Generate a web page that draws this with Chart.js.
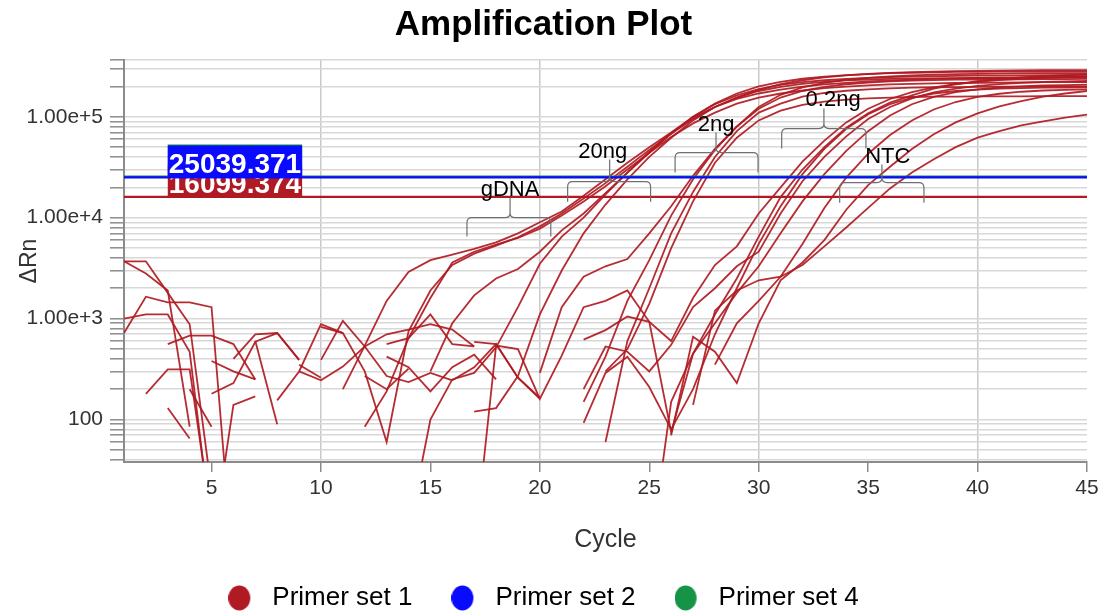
<!DOCTYPE html>
<html>
<head>
<meta charset="utf-8">
<title>Amplification Plot</title>
<script src="https://cdn.jsdelivr.net/npm/chart.js@4.4.1/dist/chart.umd.min.js"></script>
<style>
  html, body { margin: 0; padding: 0; background: #fff; }
  #wrap { width: 1104px; height: 614px; }
</style>
</head>
<body>
<div id="wrap"><canvas id="ampChart" width="1104" height="614"></canvas></div>
<script>
"use strict";

/* ── Datos ────────────────────────────────────────────── */
const cycles = [1, 2, 3, 4, 5, 6, 7, 8, 9, 10, 11, 12, 13, 14, 15, 16, 17, 18, 19, 20, 21, 22, 23,
  24, 25, 26, 27, 28, 29, 30, 31, 32, 33, 34, 35, 36, 37, 38, 39, 40, 41, 42, 43, 44, 45];

// ΔRn por ciclo (null = valor negativo, no se dibuja en escala log)
const gdna1 = [3700, 3700, 1800, 880, 20, null, null, null, null, null, 200, 540, 1500, 2900, 3800,
  4300, 4900, 5700, 7000, 9000, 11500, 16500, 24000, 35000, 50000, 70000, 98000, 125000, 150000, 170000,
  186000, 199000, 209000, 217000, 224000, 229000, 233000, 237000, 240000, 242000, 244000, 246000, 248000, 249000, 250000];
const gdna2 = [3700, 2800, 1900, 85, null, null, null, 155, 300, 880, 720, 300, 60, 750, 1900,
  3400, 4400, 5300, 6400, 8200, 11000, 15500, 22000, 32000, 47000, 68000, 95000, 125000, 155000, 185000,
  210000, 230000, 245000, 257000, 266000, 272000, 277000, 280000, 283000, 285000, 287000, 288000, 289000, 290000, 290000];
const gdna3 = [1000, 1100, 1100, 470, 8, null, null, null, 350, 260, null, 85, 190, 640, 1600,
  3600, 4600, 5400, 6300, 7800, 10500, 14500, 20500, 30000, 44000, 63000, 86000, 110000, 135000, 155000,
  170000, 182000, 192000, 199000, 205000, 209000, 212000, 214000, 216000, 217000, 218000, 219000, 220000, 220000, 221000];
const ng20a = [null, 180, 315, 315, 10, null, null, null, null, null, null, null, null, null, 300,
  900, 1700, 2500, 3100, 4600, 7500, 11000, 17500, 28000, 44000, 68000, 100000, 135000, 170000, 200000,
  222000, 238000, 250000, 259000, 265000, 270000, 273000, 276000, 278000, 279000, 280000, 280000, 281000, 281000, 282000];
const ng20b = [null, null, null, null, 380, 300, 250, null, null, null, null, null, null, 8, 100,
  250, 290, 520, 1300, 3500, 6500, 10000, 17000, 28000, 45000, 69000, 100000, 133000, 163000, 188000,
  207000, 220000, 230000, 237000, 243000, 247000, 250000, 252000, 254000, 255000, 256000, 257000, 258000, 259000, 260000];
const ng20c = [null, null, null, null, null, null, null, null, null, null, null, 270, 200, 320, null,
  null, 120, 130, 270, 1100, 3000, 7000, 13500, 24000, 40000, 62000, 92000, 125000, 155000, 180000,
  198000, 212000, 222000, 229000, 234000, 237000, 239000, 240000, 241000, 242000, 242000, 243000, 243000, 244000, 244000];
const ng2a = [null, null, 560, 680, 680, 560, 250, null, null, null, null, null, null, null, null,
  null, null, null, null, 290, 1300, 2600, 3300, 3900, 7000, 13000, 26000, 48000, 80000, 120000,
  155000, 180000, 198000, 210000, 218000, 224000, 228000, 231000, 233000, 234000, 235000, 235000, 236000, 236000, 237000];
const ng2b = [null, null, null, null, 180, 230, 590, 720, 390, null, null, null, null, null, null,
  null, 590, 560, 260, 160, null, 150, 420, 1500, 3800, 10500, 24000, 47000, 80000, 125000,
  165000, 195000, 217000, 232000, 243000, 251000, 257000, 261000, 264000, 266000, 268000, 269000, 270000, 270000, 271000];
const ng2c = [null, null, null, null, null, null, null, null, null, 390, 950, 530, 270, 235, 290,
  245, null, null, null, null, null, null, 60, 600, 2000, 7000, 18000, 40000, 72000, 110000,
  135000, 158000, 172000, 181000, 187000, 191000, 194000, 196000, 197000, 198000, 199000, 199000, 200000, 200000, 200000];
const ng2d = [720, 1650, 1450, 1450, 1300, 3, null, null, null, null, null, null, null, null, null,
  null, null, null, null, null, null, null, 300, 500, 1400, 5000, 14500, 35000, 62000, 92000,
  115000, 131000, 141000, 148000, 152000, 155000, 157000, 158000, 158000, 159000, 159000, 159000, 160000, 160000, 160000];
const ng02a = [null, null, null, null, null, null, null, null, null, null, null, null, null, null, null,
  null, null, null, null, null, null, 620, 770, 1050, 930, 600, 1600, 3400, 5200, 11000,
  20000, 36000, 58000, 88000, 120000, 150000, 175000, 195000, 210000, 222000, 231000, 238000, 243000, 247000, 250000];
const ng02b = [null, null, null, null, null, null, null, null, null, null, null, null, null, null, null,
  null, null, null, null, null, null, 200, 530, 470, 300, 550, 1300, 2000, 3300, 4600,
  11000, 23000, 40000, 64000, 95000, 125000, 152000, 174000, 190000, 202000, 211000, 217000, 221000, 224000, 226000];
const ng02c = [null, null, null, null, 5, 140, 170, null, null, null, null, null, 420, 330, 190,
  330, 440, 250, null, null, null, null, null, null, 4, 150, 450, 1100, 2500, 6500,
  16000, 30000, 50000, 78000, 108000, 138000, 163000, 190000, 210000, 225000, 237000, 246000, 253000, 258000, 262000];
const ng02d = [null, null, null, null, null, 400, 700, 720, 390, null, null, null, null, null, null,
  null, 5, 540, 500, 160, 430, 1300, 1500, 1900, 930, 75, 450, 900, 1800, 3300,
  7000, 14500, 27000, 46000, 72000, 103000, 133000, 157000, 175000, 187000, 195000, 200000, 204000, 206000, 208000];
const ng02e = [null, null, 130, 65, null, null, 600, 90, null, null, null, null, null, null, null,
  null, null, null, null, null, null, 93, 290, 420, 210, 80, 200, 700, 2000, 5500,
  13000, 27000, 48000, 76000, 106000, 133000, 155000, 170000, 180000, 186000, 190000, 192000, 194000, 195000, 196000];
const ntc1 = [null, null, null, null, null, null, null, null, 300, 245, 335, 530, 700, 780, 880,
  780, 530, null, null, null, null, null, null, null, null, null, null, 350, 900, 1500,
  2600, 5500, 12500, 25000, 43000, 66000, 92000, 118000, 140000, 157000, 169000, 177000, 182000, 185000, 187000];
const ntc2 = [null, null, null, 200, 85, null, null, null, null, null, null, null, 560, 640, 1100,
  560, 530, null, null, null, null, null, null, null, null, 70, 660, 470, 230, 900,
  2400, 3600, 6000, 12000, 21000, 32000, 48000, 67000, 88000, 108000, 127000, 143000, 158000, 170000, 180000];
const ntc3 = [null, null, null, null, null, null, null, null, null, 830, 720, null, null, null, null,
  245, 330, 560, 260, 165, null, null, null, null, null, null, 140, 1200, 1900, 2400,
  2600, 3400, 5200, 8000, 12500, 19500, 28000, 38000, 50000, 62000, 72000, 82000, 90000, 98000, 105000];

const primerSet1Curves = [gdna1, gdna2, gdna3, ng20a, ng20b, ng20c, ng2a, ng2b, ng2c, ng2d,
  ng02a, ng02b, ng02c, ng02d, ng02e, ntc1, ntc2, ntc3];

// Umbrales (el de Primer set 4 queda tapado por la etiqueta azul; valor estimado)
const thresholdSet1 = 16099.374;
const thresholdSet2 = 25039.371;
const thresholdSet4 = 25600.0;

const legendNames = ["Primer set 1", "Primer set 2", "Primer set 4"];

// Ejes
const xTickValues = [5, 10, 15, 20, 25, 30, 35, 40, 45];
const yGridValues = [40, 50, 60, 70, 80, 90, 100, 200, 300, 400, 500, 600, 700, 800, 900,
  1000, 2000, 3000, 4000, 5000, 6000, 7000, 8000, 9000,
  10000, 20000, 30000, 40000, 50000, 60000, 70000, 80000, 90000,
  100000, 200000, 300000];
const yLabelValues = [100, 1000, 10000, 100000];

// Llaves de anotación (x en ciclos, y en ΔRn)
const bracketLabels = ["gDNA", "20ng", "2ng", "0.2ng", "NTC"];
const bracketLeft = [16.67, 21.27, 26.18, 31.05, 33.7];
const bracketRight = [20.5, 25.06, 29.97, 34.9, 37.55];
const bracketMid = [18.64, 23.19, 28.05, 32.98, 35.63];
const bracketTextX = [18.64, 22.87, 28.05, 33.4, 35.9];
const bracketEnd = [6500, 14400, 28000, 48400, 14100];
const bracketBar = [10000, 22800, 44200, 76400, 22300];
const bracketPeak = [15800, 37700, 69800, 121000, 33600];

/* ── Estilos ──────────────────────────────────────────── */
const FONT = "'Liberation Sans', Arial, sans-serif";
const RED = "#b01a22";
const BLUE = "#0a0aff";
const GREEN = "#159447";
const legendColors = [RED, BLUE, GREEN];

function legendDot(color) {
  const c = document.createElement("canvas");
  c.width = 31;
  c.height = 26;
  const g = c.getContext("2d");
  g.fillStyle = color;
  g.beginPath();
  g.ellipse(11, 13, 11, 12.5, 0, 0, Math.PI * 2);
  g.fill();
  return c;
}

const toPoints = (arr) => arr.map((v, i) => ({ x: cycles[i], y: v }));

const curveSets = primerSet1Curves.map((arr) => ({
  label: "Primer set 1",
  data: toPoints(arr),
  borderColor: "rgba(176,26,34,0.92)",
  borderWidth: 1.8,
  pointRadius: 0,
  tension: 0,
  order: 3,
}));

const thresholdLine = (label, value, color, order) => ({
  label,
  data: [{ x: cycles[0], y: value }, { x: cycles[cycles.length - 1], y: value }],
  borderColor: color,
  borderWidth: 2.2,
  pointRadius: 0,
  order,
});

const thresholdSets = [
  thresholdLine("Primer set 1", thresholdSet1, RED, 1),
  thresholdLine("Primer set 4", thresholdSet4, GREEN, 1),
  thresholdLine("Primer set 2", thresholdSet2, BLUE, 0),
];

// Llaves, textos y etiquetas de umbral
const annotationPlugin = {
  id: "ampAnnotations",
  afterDatasetsDraw(chart) {
    const { ctx, chartArea, scales } = chart;
    const x = scales.x;
    const y = scales.y;
    ctx.save();
    ctx.beginPath();
    ctx.rect(chartArea.left, chartArea.top, chartArea.right - chartArea.left, chartArea.bottom - chartArea.top);
    ctx.clip();

    // llaves
    ctx.strokeStyle = "#6f6f6f";
    ctx.lineWidth = 1.2;
    bracketLabels.forEach((label, i) => {
      const x1 = x.getPixelForValue(bracketLeft[i]);
      const x2 = x.getPixelForValue(bracketRight[i]);
      const xm = x.getPixelForValue(bracketMid[i]);
      const yEnd = y.getPixelForValue(bracketEnd[i]);
      const yBar = y.getPixelForValue(bracketBar[i]);
      const yPeak = y.getPixelForValue(bracketPeak[i]);
      const r = 5;
      ctx.beginPath();
      ctx.moveTo(x1, yEnd);
      ctx.lineTo(x1, yBar + r);
      ctx.quadraticCurveTo(x1, yBar, x1 + r, yBar);
      ctx.lineTo(xm - r, yBar);
      ctx.quadraticCurveTo(xm, yBar, xm, yBar - r);
      ctx.lineTo(xm, yPeak);
      ctx.moveTo(xm, yBar - r);
      ctx.quadraticCurveTo(xm, yBar, xm + r, yBar);
      ctx.lineTo(x2 - r, yBar);
      ctx.quadraticCurveTo(x2, yBar, x2, yBar + r);
      ctx.lineTo(x2, yEnd);
      ctx.stroke();

      ctx.fillStyle = "#000";
      ctx.font = `22px ${FONT}`;
      ctx.textAlign = "center";
      ctx.textBaseline = "alphabetic";
      ctx.fillText(label, x.getPixelForValue(bracketTextX[i]), yPeak - 2);
    });

    // etiquetas de umbral (roja, verde, azul encima)
    const labels = [
      { value: thresholdSet1, color: RED },
      { value: thresholdSet4, color: GREEN },
      { value: thresholdSet2, color: BLUE },
    ];
    ctx.font = `bold 28px ${FONT}`;
    ctx.textAlign = "left";
    ctx.textBaseline = "alphabetic";
    const left = x.getPixelForValue(3);
    labels.forEach((t) => {
      const text = t.value.toFixed(3);
      const w = ctx.measureText(text).width + 2;
      const bottom = y.getPixelForValue(t.value) + 1;
      ctx.fillStyle = t.color;
      ctx.fillRect(left, bottom - 33, w, 33);
      ctx.fillStyle = "#fff";
      ctx.fillText(text, left + 1, bottom - 5);
    });
    ctx.restore();
  },
};

new Chart(document.getElementById("ampChart"), {
  type: "line",
  data: { datasets: [...thresholdSets, ...curveSets] },
  options: {
    responsive: false,
    animation: false,
    events: [],
    devicePixelRatio: 1,
    layout: { padding: { left: 0, right: 17, top: 0, bottom: -7 } },
    plugins: {
      tooltip: { enabled: false },
      title: {
        display: true,
        text: "Amplification Plot",
        color: "#000",
        font: { family: FONT, size: 35, weight: "bold" },
        padding: { top: 4, bottom: 14 },
      },
      legend: {
        position: "bottom",
        labels: {
          usePointStyle: true,
          pointStyleWidth: 31,
          boxWidth: 31,
          boxHeight: 26,
          padding: 39,
          color: "#333",
          font: { family: FONT, size: 26 },
          generateLabels: () =>
            legendNames.map((text, i) => ({
              text,
              fillStyle: legendColors[i],
              strokeStyle: legendColors[i],
              lineWidth: 0,
              pointStyle: legendDot(legendColors[i]),
              hidden: false,
            })),
        },
      },
    },
    scales: {
      x: {
        type: "linear",
        min: 1,
        max: 45,
        afterBuildTicks: (scale) => {
          scale.ticks = xTickValues.map((v) => ({ value: v }));
        },
        afterFit: (scale) => {
          scale.height = 84;
        },
        grid: {
          color: (c) => (c.tick && c.tick.value % 10 === 0 ? "#c9c9c9" : "rgba(0,0,0,0)"),
          lineWidth: 1.5,
          tickColor: "#8c8c8c",
          tickLength: 10,
          tickWidth: 1.5,
        },
        border: { color: "#8c8c8c", width: 2 },
        ticks: {
          color: "#333",
          padding: 4,
          autoSkip: false,
          maxRotation: 0,
          font: { family: FONT, size: 21 },
        },
        title: {
          display: true,
          text: "Cycle",
          color: "#333",
          font: { family: FONT, size: 25 },
          padding: { top: 0, bottom: -9 },
        },
      },
      y: {
        type: "logarithmic",
        min: 38,
        max: 365000,
        afterBuildTicks: (scale) => {
          scale.ticks = yGridValues.map((v) => ({ value: v }));
          scale.ticks.push({ value: scale.max });
        },
        afterFit: (scale) => {
          scale.width = 124;
        },
        grid: {
          color: "#d8d8d8",
          lineWidth: 1.6,
          tickColor: "#8c8c8c",
          tickLength: 14,
          tickWidth: 1.5,
        },
        border: { color: "#8c8c8c", width: 2 },
        ticks: {
          color: "#333",
          padding: 7,
          autoSkip: false,
          font: { family: FONT, size: 21 },
          callback: (v) => {
            if (!yLabelValues.includes(v)) return "";
            return v < 1000 ? String(v) : v.toExponential(2);
          },
        },
        title: {
          display: true,
          text: "ΔRn",
          color: "#333",
          font: { family: FONT, size: 23 },
          padding: { top: 16, bottom: 0 },
        },
      },
    },
  },
  plugins: [annotationPlugin],
});
</script>
</body>
</html>
